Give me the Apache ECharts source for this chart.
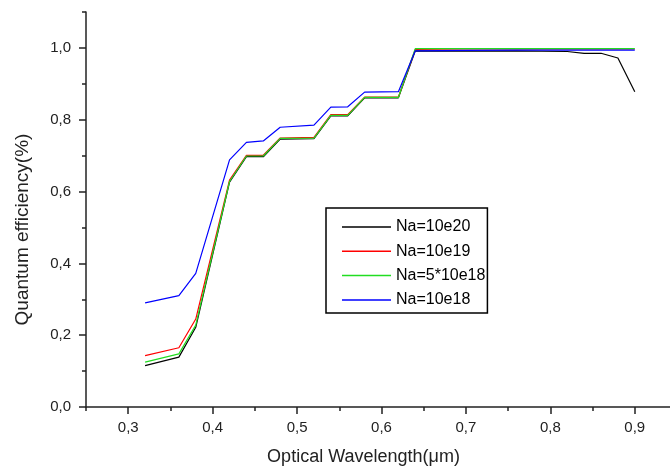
<!DOCTYPE html>
<html lang="en">
<style>
  #container {
    width: 670px;
    height: 470px;
    margin: 0;
  }

  body {
    margin: 0;
    background: #fff;
  }
</style>

<head>
  <meta charset="UTF-8">
  <script src="https://cdn.jsdelivr.net/npm/echarts@6/dist/echarts.min.js"></script>
</head>

<body>
  <div id="container"></div>
  <script>
    // wavelength (um)
    var wavelength = [0.32, 0.36, 0.38, 0.42, 0.44, 0.46, 0.48, 0.52, 0.54, 0.56, 0.58, 0.62, 0.64, 0.70, 0.76, 0.82, 0.84, 0.86, 0.88, 0.90];
    var qe_10e20 = [0.115, 0.139, 0.222, 0.626, 0.697, 0.697, 0.746, 0.747, 0.811, 0.811, 0.861, 0.861, 0.992, 0.991, 0.992, 0.990, 0.985, 0.985, 0.972, 0.878];
    var qe_10e19 = [0.143, 0.165, 0.245, 0.632, 0.701, 0.701, 0.749, 0.751, 0.814, 0.814, 0.863, 0.863, 0.996, 0.997, 0.997, 0.997, 0.997, 0.997, 0.997, 0.997];
    var qe_5x10e18 = [0.125, 0.148, 0.228, 0.628, 0.699, 0.699, 0.748, 0.749, 0.812, 0.812, 0.862, 0.862, 0.998, 0.998, 0.998, 0.998, 0.998, 0.998, 0.998, 0.998];
    var qe_10e18 = [0.290, 0.310, 0.372, 0.688, 0.737, 0.741, 0.779, 0.785, 0.835, 0.836, 0.877, 0.878, 0.992, 0.993, 0.994, 0.994, 0.994, 0.994, 0.994, 0.994];

    var xMajor = [0.3, 0.4, 0.5, 0.6, 0.7, 0.8, 0.9];
    var xMinor = [0.25, 0.35, 0.45, 0.55, 0.65, 0.75, 0.85];
    var yMajor = [0, 0.2, 0.4, 0.6, 0.8, 1.0];
    var yMinor = [0.1, 0.3, 0.5, 0.7, 0.9, 1.1];

    var names = ['Na=10e20', 'Na=10e19', 'Na=5*10e18', 'Na=10e18'];
    var colors = ['#000000', '#ff0000', '#22dd22', '#0000ff'];
    var values = [qe_10e20, qe_10e19, qe_5x10e18, qe_10e18];

    var myChart = echarts.init(document.getElementById('container'));

    function pair(xs, ys) {
      var res = [];
      for (var i = 0; i < xs.length; i++) res.push([xs[i], ys[i]]);
      return res;
    }
    var fmt = function (v) { return v.toFixed(1).replace('.', ','); };
    var font = 'Liberation Sans';
    var axisColor = '#222';

    var option = {
      animation: false,
      textStyle: { fontFamily: font },
      grid: { left: 86, top: 12, bottom: 63, right: -7, outerBoundsMode: 'none' },
      legend: {
        orient: 'vertical',
        left: 326,
        top: 208,
        data: names.map(function (n) { return { name: n, icon: 'rect' }; }),
        itemWidth: 49,
        itemHeight: 1.5,
        itemGap: 8.3,
        padding: [11, 2, 5, 16],
        borderColor: '#000',
        borderWidth: 1.5,
        textStyle: { fontSize: 16, color: '#000', fontFamily: font }
      },
      xAxis: [
        {
          type: 'value', min: 0.25, max: 0.95,
          name: 'Optical Wavelength(\u03bcm)',
          nameLocation: 'middle',
          nameGap: 41,
          nameTextStyle: { fontSize: 18, color: axisColor, padding: [0, 36, 0, 0] },
          axisLine: { show: true, lineStyle: { color: axisColor, width: 1.5 } },
          axisTick: { show: true, customValues: xMajor, length: 7, lineStyle: { width: 1.5 } },
          axisLabel: { customValues: xMajor, formatter: fmt, fontSize: 15, color: axisColor, margin: 13 },
          splitLine: { show: false }
        },
        {
          type: 'value', min: 0.25, max: 0.95, position: 'bottom',
          axisLine: { show: false },
          axisTick: { show: true, customValues: xMinor, length: 4, lineStyle: { color: axisColor, width: 1.5 } },
          axisLabel: { show: false },
          splitLine: { show: false }
        }
      ],
      yAxis: [
        {
          type: 'value', min: 0, max: 1.1,
          name: 'Quantum efficiency(%)',
          nameLocation: 'middle',
          nameGap: 54,
          nameTextStyle: { fontSize: 19, color: axisColor, padding: [0, 40, 0, 0] },
          axisLine: { show: true, lineStyle: { color: axisColor, width: 1.5 } },
          axisTick: { show: true, customValues: yMajor, length: 7, lineStyle: { width: 1.5 } },
          axisLabel: { customValues: yMajor, formatter: fmt, fontSize: 15, color: axisColor, margin: 15 },
          splitLine: { show: false }
        },
        {
          type: 'value', min: 0, max: 1.1, position: 'left',
          axisLine: { show: false },
          axisTick: { show: true, customValues: yMinor, length: 4, lineStyle: { color: axisColor, width: 1.5 } },
          axisLabel: { show: false },
          splitLine: { show: false }
        }
      ],
      series: values.map(function (v, i) {
        return {
          name: names[i],
          type: 'line',
          xAxisIndex: 0,
          yAxisIndex: 0,
          symbol: 'none',
          color: colors[i],
          lineStyle: { color: colors[i], width: 1.2 },
          data: pair(wavelength, v)
        };
      })
    };

    myChart.setOption(option);
  </script>
</body>

</html>
